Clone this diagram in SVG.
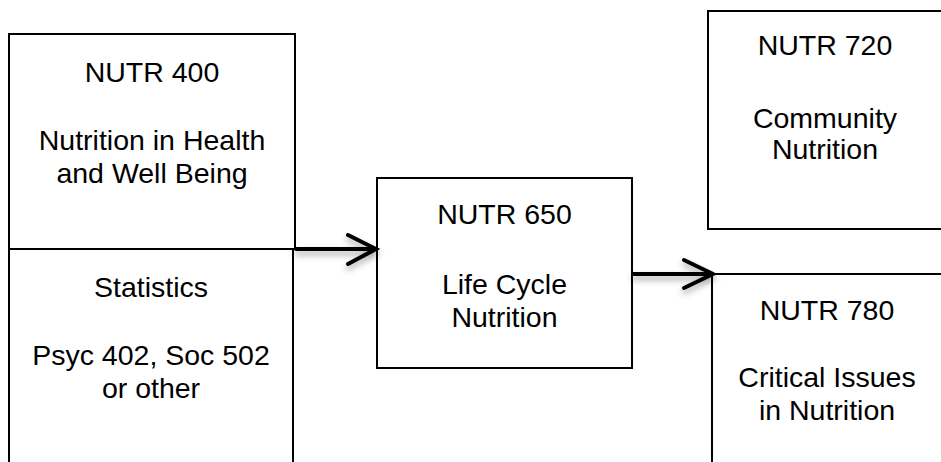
<svg xmlns="http://www.w3.org/2000/svg" width="941" height="462" viewBox="0 0 941 462">
<defs>
<style>
.box{fill:#fff;stroke:#000;stroke-width:2}
.t{font-family:"Liberation Sans",Arial,sans-serif;font-size:28.5px;fill:#000;text-anchor:middle}
.arr{fill:none;stroke:#000;stroke-width:4;stroke-linecap:round;stroke-linejoin:miter}
</style>
<filter id="sh" x="-20%" y="-50%" width="140%" height="200%">
<feDropShadow dx="0" dy="4" stdDeviation="3" flood-color="#000" flood-opacity="0.35"/>
</filter>
</defs>
<rect width="941" height="462" fill="#fff"/>
<g id="nutr400">
<rect class="box" x="9" y="34" width="286" height="215"/>
<text class="t" x="152" y="82">NUTR 400</text>
<text class="t" x="152" y="150">Nutrition in Health</text>
<text class="t" x="152" y="183">and Well Being</text>
</g>
<g id="statistics">
<rect class="box" x="9" y="249" width="284" height="230"/>
<text class="t" x="151" y="297">Statistics</text>
<text class="t" x="151" y="365">Psyc 402, Soc 502</text>
<text class="t" x="151" y="398">or other</text>
</g>
<g id="nutr650">
<rect class="box" x="377" y="178" width="255" height="190"/>
<text class="t" x="504.5" y="224">NUTR 650</text>
<text class="t" x="504.5" y="294">Life Cycle</text>
<text class="t" x="504.5" y="327">Nutrition</text>
</g>
<g id="nutr720">
<rect class="box" x="708" y="11" width="240" height="218"/>
<text class="t" x="825" y="55">NUTR 720</text>
<text class="t" x="825" y="128">Community</text>
<text class="t" x="825" y="159">Nutrition</text>
</g>
<g id="nutr780">
<rect class="box" x="712" y="274" width="240" height="220"/>
<text class="t" x="827" y="320">NUTR 780</text>
<text class="t" x="827" y="387">Critical Issues</text>
<text class="t" x="827" y="420">in Nutrition</text>
</g>
<g id="connectors" filter="url(#sh)">
<path class="arr" d="M296 249 H375 M348 235 L376 249 L348 264"/>
<path class="arr" d="M633 274 H713 M684 260 L713 274 L684 288"/>
</g>
</svg>
